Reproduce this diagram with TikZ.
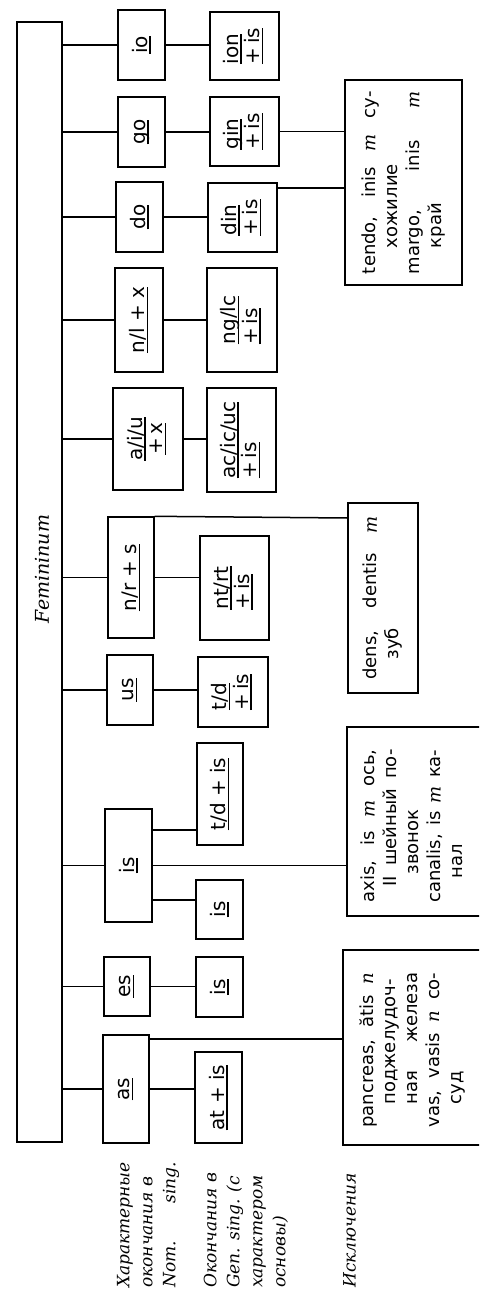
\documentclass[tikz,border=0pt]{standalone}
\usepackage{fontspec}
\setmainfont{DejaVu Serif}
\setsansfont{DejaVu Sans}
\usepackage{graphicx}
\newcommand{\ul}[1]{\setbox0\hbox{#1}\rlap{\rule[-3.5pt]{\wd0}{1.4pt}}\box0}
\newcommand{\one}[1]{\rotatebox{90}{\ul{#1}}}
\newcommand{\two}[2]{\rotatebox{90}{\begin{tabular}{@{}l@{}}\ul{#1}\\\ul{#2}\end{tabular}}}
\newcommand{\twoc}[2]{\rotatebox{90}{\begin{tabular}{@{}c@{}}\ul{#1}\\\ul{#2}\end{tabular}}}
\newcommand{\M}{{\rmfamily\itshape m}}
\newcommand{\N}{{\rmfamily\itshape n}}
\newcommand{\pl}{\hspace{0.32em}+\hspace{0.32em}}
\newcommand{\jl}[2][0pt]{\hspace*{#1}\makebox[\dimexpr\linewidth-#1\relax][s]{#2}}
\newcommand{\exc}[2]{\rotatebox{90}{\parbox{#1}{\sffamily\fontsize{18}{22}\selectfont\raggedright #2}}}
\newcommand{\labfont}{\rmfamily\itshape\fontsize{17}{23}\selectfont}
\tikzset{
  ln/.style={line width=1.5pt},
  bx/.style={draw, line width=1.4pt, inner sep=0pt, font=\sffamily\fontsize{20}{20.5}\selectfont},
  tx/.style={inner sep=0pt},
}
\begin{document}
\begin{tikzpicture}[x=1pt,y=-1pt]
\useasboundingbox (0,0) rectangle (479,1297);
\clip (0,0) rectangle (479,1297);
\fill[white] (0,0) rectangle (479,1297);
% bar
\node[draw, line width=1.4pt, minimum width=45pt, minimum height=1120pt, inner sep=0pt] (fem) at (39.5,582) {};
\node[tx] (femtext) at (42,569) {\rotatebox{90}{\rmfamily\itshape\fontsize{19}{24}\selectfont Femininum}};
% level 1
\node[bx, minimum width=47pt, minimum height=70pt] (io) at (141.5,45) {\one{io}};
\node[bx, minimum width=47pt, minimum height=70pt] (go) at (141.5,132) {\one{go}};
\node[bx, minimum width=47pt, minimum height=70pt] (do) at (139.5,217) {\one{do}};
\node[bx, minimum width=48pt, minimum height=104pt] (nlx) at (139,320) {\one{n/l\pl x}};
\node[bx, minimum width=70pt, minimum height=102pt] (aiu) at (148,439) {\twoc{a/i/u}{+\,x}};
\node[bx, minimum width=46pt, minimum height=121pt] (nrs) at (131,577.5) {\one{n/r\pl s}};
\node[bx, minimum width=46pt, minimum height=70pt] (us) at (130,690) {\one{us}};
\node[bx, minimum width=47pt, minimum height=113pt] (is1) at (128.5,865.5) {\one{is}};
\node[bx, minimum width=46pt, minimum height=59pt] (es) at (127,986.5) {\one{es}};
\node[bx, minimum width=46pt, minimum height=108pt] (as) at (126,1089) {\one{as}};
% level 2
\node[bx, minimum width=69pt, minimum height=68pt] (ion) at (244.5,46) {\two{ion}{+\,is}};
\node[bx, minimum width=69pt, minimum height=69pt] (gin) at (244.5,131.5) {\two{gin}{+\,is}};
\node[bx, minimum width=69pt, minimum height=69pt] (din) at (242.5,217.5) {\two{din}{+\,is}};
\node[bx, minimum width=70pt, minimum height=104pt] (nglc) at (242,320) {\two{ng/lc}{+\,is}};
\node[bx, minimum width=69pt, minimum height=104pt] (acicuc) at (241.5,440) {\two{ac/ic/uc}{+\,is}};
\node[bx, minimum width=69pt, minimum height=104pt] (ntrt) at (234.5,588) {\two{nt/rt}{+\,is}};
\node[bx, minimum width=70pt, minimum height=70pt] (td) at (233,692) {\two{t/d}{+\,is}};
\node[bx, minimum width=46pt, minimum height=102pt] (tdis) at (220,794) {\one{t/d\pl is}};
\node[bx, minimum width=47pt, minimum height=59pt] (is2) at (219.5,909.5) {\one{is}};
\node[bx, minimum width=47pt, minimum height=60pt] (is3) at (219.5,987) {\one{is}};
\node[bx, minimum width=47pt, minimum height=91pt] (atis) at (218.5,1097.5) {\one{at\pl is}};
% exceptions
\node[bx, minimum width=117pt, minimum height=205pt] (tendo) at (403.5,182.5) {\exc{183pt}{%
\jl{tendo, inis \M\ су-}\\
\hspace*{26pt}хожилие\\
\jl{margo, inis \M}\\
\hspace*{26pt}край}};
\node[bx, minimum width=70pt, minimum height=190pt] (dens) at (383,598) {\exc{163pt}{%
\jl{dens, dentis \M}\\
\hspace*{20pt}зуб}};
\node[bx, minimum width=180pt, minimum height=189pt] (axis) at (437,821.5) {};
\node[tx] (axistext) at (412,826) {\exc{153pt}{%
\jl{axis, is \M\ ось,}\\
\jl[16pt]{II шейный по-}\\
\hspace*{28pt}звонок\\
\jl{canalis, is \M\ ка-}\\
\hspace*{24pt}нал}};
\node[bx, minimum width=184pt, minimum height=195pt] (panc) at (435,1047.5) {};
\node[tx] (panctext) at (412,1050) {\exc{155pt}{%
\jl{pancreas, ătis \N}\\
\jl[23pt]{поджелудоч-}\\
\jl[23pt]{ная железа}\\
\jl{vas, vasis \N\ со-}\\
\hspace*{23pt}суд}};
% labels
\node[tx, anchor=south west] (lab1) at (113,1288) {\rotatebox{90}{\labfont\begin{tabular}{@{}l@{}}Характерные\\окончания в\\\makebox[126pt][s]{Nom. sing.}\end{tabular}}};
\node[tx, anchor=south west] (lab2) at (200,1288) {\rotatebox{90}{\labfont\begin{tabular}{@{}l@{}}Окончания в\\Gen. sing. (с\\характером\\основы)\end{tabular}}};
\node[tx, anchor=south west] (lab3) at (343,1288) {\rotatebox{90}{\labfont Исключения}};
% helper coordinates
\coordinate (y188) at (0,188);
\coordinate (y518) at (0,518);
\coordinate (y830) at (0,830);
\coordinate (y900) at (0,900);
\coordinate (y1039) at (0,1039);
% bar to level 1
\foreach \n in {io,go,do,nlx,aiu,nrs,us,is1,es,as}
  \draw[ln] (fem.east |- \n.west) -- (\n.west);
% level 1 to level 2
\foreach \a/\b in {io/ion,go/gin,do/din,nlx/nglc,aiu/acicuc,nrs/ntrt,us/td,es/is3,as/atis}
  \draw[ln] (\a.east) -- (\a.east -| \b.west);
\draw[ln] (is1.east |- y830) -- (tdis.west |- y830);
\draw[ln] (is1.east |- y900) -- (is2.west |- y900);
% to exceptions
\draw[ln] (gin.east) -- (gin.east -| tendo.west);
\draw[ln] (din.east |- y188) -- (tendo.west |- y188);
\draw[ln] (nrs.north east) -- (dens.west |- y518);
\draw[ln] (is1.east) -- (is1.east -| axis.west);
\draw[ln] (as.east |- y1039) -- (panc.west |- y1039);
\end{tikzpicture}
\end{document}
